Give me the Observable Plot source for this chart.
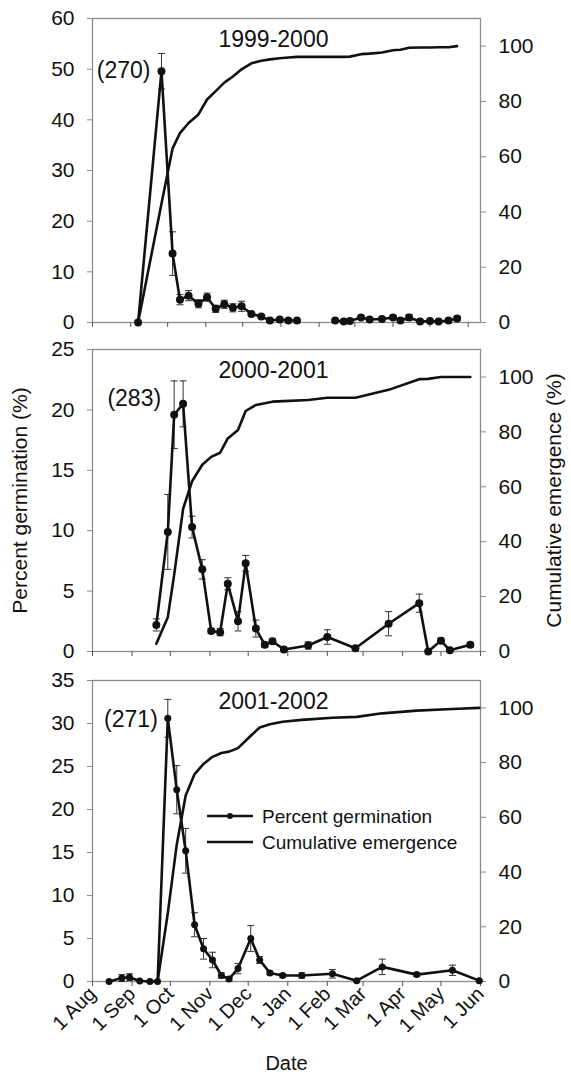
<!DOCTYPE html>
<html>
<head>
<meta charset="utf-8">
<script src="https://cdn.jsdelivr.net/npm/d3@7"></script>
<script src="https://cdn.jsdelivr.net/npm/@observablehq/plot@0.6"></script>
<style>
  body { margin: 0; background: #fff; }
  #chart { position: relative; width: 571px; height: 1076px; font-family: "Liberation Sans", Arial, sans-serif; color: #111; }
  #chart > svg.panel { position: absolute; left: 0; overflow: visible; }
  #chart > svg#legend { position: absolute; left: 200px; top: 800px; width: 300px; height: 60px; overflow: visible; }
</style>
</head>
<body>
<div id="chart"></div>
<script>
// ---------------- data ----------------
const seasons = ["1999-2000", "2000-2001", "2001-2002"];
const totals = ["(270)", "(283)", "(271)"];
const monthLabels = ["1 Aug", "1 Sep", "1 Oct", "1 Nov", "1 Dec", "1 Jan", "1 Feb", "1 Mar", "1 Apr", "1 May", "1 Jun"];
const germMax = [60, 25, 35];
const germStep = [10, 5, 5];
const cumMax = 110;
const cumTicks = [0, 20, 40, 60, 80, 100];
const xEnds = ["2000-06-11", "2001-06-01", "2002-06-01"];

// 1999-2000 (null = missing sample, breaks the germination line)
const dates1 = ["1999-09-07","1999-09-26","1999-10-05","1999-10-11","1999-10-18","1999-10-26","1999-11-02","1999-11-09","1999-11-16","1999-11-23","1999-11-30","1999-12-08","1999-12-16","1999-12-23","1999-12-31","2000-01-07","2000-01-14","2000-01-30","2000-02-14","2000-02-21","2000-02-26","2000-03-06","2000-03-13","2000-03-23","2000-04-01","2000-04-07","2000-04-14","2000-04-23","2000-05-01","2000-05-08","2000-05-16","2000-05-23"];
const germ1 = [0, 49.6, 13.6, 4.5, 5.3, 3.7, 5.0, 2.7, 3.6, 2.9, 3.2, 1.7, 1.2, 0.4, 0.6, 0.4, 0.4, null, 0.4, 0.2, 0.3, 1.0, 0.6, 0.7, 1.0, 0.4, 1.0, 0.2, 0.3, 0.2, 0.4, 0.8];
const err1 = [0, 3.5, 4.3, 1.0, 1.0, 0.8, 0.8, 0.7, 0.8, 0.8, 1.0, 0.3, 0.3, 0.2, 0.2, 0.2, 0.2, null, 0.2, 0.2, 0.2, 0.3, 0.2, 0.3, 0.4, 0.3, 0.6, 0.2, 0.2, 0.2, 0.2, 0.4];
const cum1 = [0, 43, 63, 68.5, 72.2, 75.3, 80.7, 83.7, 86.8, 89, 91.6, 93.8, 94.7, 95.2, 95.6, 95.9, 96.1, null, 96.1, 96.1, 96.2, 97.1, 97.3, 97.7, 98.5, 98.7, 99.4, 99.5, 99.5, 99.6, 99.6, 100];

// 2000-2001
const dates2 = ["2000-09-20","2000-09-29","2000-10-04","2000-10-11","2000-10-18","2000-10-26","2000-11-02","2000-11-09","2000-11-15","2000-11-23","2000-11-29","2000-12-07","2000-12-14","2000-12-20","2000-12-29","2001-01-17","2001-02-01","2001-02-23","2001-03-21","2001-04-14","2001-04-21","2001-05-01","2001-05-08","2001-05-24"];
const germ2 = [2.2, 9.9, 19.6, 20.5, 10.3, 6.8, 1.7, 1.6, 5.6, 2.5, 7.3, 1.9, 0.55, 0.85, 0.17, 0.5, 1.2, 0.27, 2.3, 4.0, 0, 0.9, 0.1, 0.55];
const err2 = [0.5, 3.1, 2.8, 1.9, 0.9, 0.8, 0.2, 0.3, 0.5, 0.8, 0.65, 0.7, 0.2, 0.2, 0.1, 0.3, 0.6, 0.1, 1.0, 0.75, 0, 0.2, 0.1, 0.2];
const cum2 = [2.8, 12.5, 28, 52, 62, 68, 70.9, 72.4, 77.6, 80.7, 87.6, 89.8, 90.4, 91.0, 91.2, 91.6, 92.4, 92.4, 95.3, 99.2, 99.3, 100, 100, 100];

// 2001-2002
const dates3 = ["2001-08-14","2001-08-24","2001-08-30","2001-09-07","2001-09-15","2001-09-21","2001-09-29","2001-10-06","2001-10-13","2001-10-20","2001-10-27","2001-11-03","2001-11-10","2001-11-16","2001-11-23","2001-12-03","2001-12-10","2001-12-18","2001-12-28","2002-01-12","2002-02-05","2002-02-24","2002-03-16","2002-04-12","2002-05-10","2002-05-31"];
const germ3 = [0, 0.4, 0.5, 0.05, 0, 0, 30.6, 22.3, 15.2, 6.6, 3.8, 2.5, 0.7, 0.3, 1.5, 5.0, 2.5, 1.0, 0.7, 0.7, 0.9, 0.1, 1.7, 0.8, 1.3, 0.1];
const err3 = [0, 0.4, 0.4, 0.1, 0, 0, 2.2, 2.8, 2.6, 1.4, 1.2, 0.9, 0.3, 0.2, 0.6, 1.5, 0.4, 0.2, 0.2, 0.3, 0.5, 0.1, 0.9, 0.2, 0.6, 0.1];
const cum3 = [null, null, null, null, null, 0, 25, 50, 68, 75.8, 79.5, 82.1, 83.5, 84.0, 85.3, 89.8, 92.8, 94.0, 94.9, 95.6, 96.4, 96.7, 98, 99, 99.6, 100];

const panelsData = [
  {dates: dates1, germ: germ1, err: err1, cum: cum1},
  {dates: dates2, germ: germ2, err: err2, cum: cum2},
  {dates: dates3, germ: germ3, err: err3, cum: cum3}
];

// ---------------- layout ----------------
const font = '"Liberation Sans", Arial, sans-serif';
const layout = [
  {top: 0,   height: 330, mt: 18, mb: 8,  r: 4,   ann: {dx: -11, dy: -1}},
  {top: 330, height: 330, mt: 19, mb: 9,  r: 4,   ann: {dx: -22, dy: -5}},
  {top: 660, height: 416, mt: 20, mb: 95, r: 3.5, ann: {dx: -10, dy: 1}}
];

const capSymbol = {
  draw(context, size) {
    const w = Math.sqrt(size / Math.PI);
    context.moveTo(-w, 0);
    context.lineTo(w, 0);
  }
};

const chart = document.getElementById("chart");

panelsData.forEach((pd, i) => {
  const L = layout[i];
  const k = germMax[i] / cumMax;
  const rows = pd.dates.map((d, j) => ({
    date: new Date(d + "T00:00:00Z"), g: pd.germ[j], e: pd.err[j], c: pd.cum[j]
  }));
  const startYear = +pd.dates[pd.dates.length - 1].slice(0, 4) - 1;
  const monthDates = monthLabels.map((m, j) => new Date(Date.UTC(startYear + (j >= 5 ? 1 : 0), (7 + j) % 12, 1)));
  const labelOf = new Map(monthDates.map((d, j) => [+d, monthLabels[j]]));
  const withErr = rows.filter(d => d.g != null && d.e > 0);
  const cumRows = rows.filter(d => d.c != null);
  const peak = rows.reduce((a, b) => (b.g != null && b.g > a.g ? b : a));
  const last = i === 2;
  const mid = i === 1;

  const svg = Plot.plot({
    width: 571,
    height: L.height,
    marginLeft: 92,
    marginRight: 91,
    marginTop: L.mt,
    marginBottom: L.mb,
    style: {fontFamily: font, fontSize: "21px", color: "#111", background: "transparent", overflow: "visible"},
    x: {type: "utc", domain: [new Date(Date.UTC(startYear, 7, 1)), new Date(xEnds[i] + "T00:00:00Z")]},
    y: {domain: [0, germMax[i]]},
    marks: [
      Plot.frame({stroke: "#8c8c8c", strokeWidth: 1.3}),
      Plot.axisY({
        ticks: d3.range(0, germMax[i] + 1, germStep[i]),
        tickSize: 5, tickPadding: 13, stroke: "#8c8c8c", fill: "#111", fontSize: 21,
        label: mid ? "Percent germination (%)" : null, labelAnchor: "center", labelOffset: 80, labelArrow: "none"
      }),
      Plot.axisY({
        anchor: "right",
        ticks: cumTicks.map(v => v * k),
        tickFormat: v => String(Math.round(v / k)),
        tickSize: 5, tickPadding: 13, stroke: "#8c8c8c", fill: "#111", fontSize: 21,
        label: mid ? "Cumulative emergence (%)" : null, labelAnchor: "center", labelOffset: 80, labelArrow: "none"
      }),
      Plot.axisX({
        ticks: monthDates,
        tickSize: 5, stroke: "#555",
        tickFormat: last ? (d => labelOf.get(+d)) : (() => ""),
        tickRotate: last ? -45 : 0,
        tickPadding: 4,
        fill: "#111", fontSize: 20,
        label: last ? "Date" : null, labelAnchor: "center", labelOffset: 88, labelArrow: "none"
      }),
      Plot.ruleX(withErr, {x: "date", y1: d => Math.max(0, d.g - d.e), y2: d => d.g + d.e, stroke: "#333", strokeWidth: 1}),
      Plot.dot(withErr, {x: "date", y: d => d.g + d.e, symbol: capSymbol, r: 3.5, stroke: "#333", strokeWidth: 1, fill: "none"}),
      Plot.dot(withErr, {x: "date", y: d => Math.max(0, d.g - d.e), symbol: capSymbol, r: 3.5, stroke: "#333", strokeWidth: 1, fill: "none"}),
      Plot.line(cumRows, {x: "date", y: d => d.c * k, stroke: "#111", strokeWidth: 2.6}),
      Plot.line(rows, {x: "date", y: "g", stroke: "#111", strokeWidth: 2.6}),
      Plot.dot(rows.filter(d => d.g != null), {x: "date", y: "g", r: L.r, fill: "#111", stroke: "none"}),
      Plot.text([seasons[i]], {frameAnchor: "top", dx: -13, dy: 12, lineAnchor: "top", fontSize: 23, fill: "#111"}),
      Plot.text([peak], {x: "date", y: "g", text: () => totals[i], textAnchor: "end", dx: L.ann.dx, dy: L.ann.dy, fontSize: 23, fill: "#111"})
    ]
  });
  svg.classList.add("panel");
  svg.style.top = L.top + "px";
  chart.appendChild(svg);
});

// legend (inside the bottom panel)
const legendItems = ["Percent germination", "Cumulative emergence"];
const lg = d3.select(chart).append("svg").attr("id", "legend").attr("width", 300).attr("height", 60);
legendItems.forEach((name, j) => {
  const y = 16 + j * 26;
  lg.append("line").attr("x1", 7).attr("x2", 53).attr("y1", y).attr("y2", y).attr("stroke", "#111").attr("stroke-width", 2.6);
  if (j === 0) lg.append("circle").attr("cx", 30).attr("cy", y).attr("r", 3).attr("fill", "#111");
  lg.append("text").attr("x", 62).attr("y", y + 7).attr("font-family", font).attr("font-size", 19).attr("fill", "#111").text(name);
});
</script>
</body>
</html>
